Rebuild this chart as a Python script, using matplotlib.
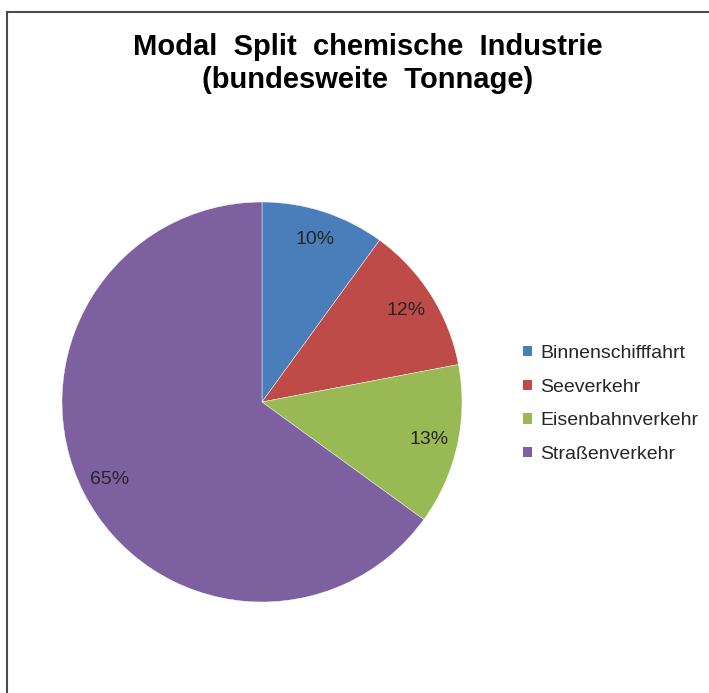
import matplotlib
matplotlib.use("Agg")
import matplotlib.pyplot as plt
from matplotlib.patches import Rectangle, Patch

plt.rcParams['font.family'] = ['Liberation Sans', 'DejaVu Sans']

categories = ["Binnenschifffahrt", "Seeverkehr", "Eisenbahnverkehr", "Straßenverkehr"]
values = [10, 12, 13, 65]
colors = ["#4A7EBB", "#BE4B48", "#98B954", "#7D60A0"]
title_lines = ["Modal Split chemische Industrie", "(bundesweite Tonnage)"]

W, H = 709, 693
fig = plt.figure(figsize=(W / 100, H / 100), dpi=100)
fig.patch.set_facecolor("white")

# chart frame (extends beyond right/bottom edge)
fig.patches.append(Rectangle((7 / W, -0.1), 1.2, (H - 12) / H + 0.1,
                             transform=fig.transFigure, fill=False,
                             edgecolor="#4a4a4a", linewidth=1.5))

cx, cy, r = 262, 402, 200
ax = fig.add_axes([(cx - r) / W, (H - cy - r) / H, 2 * r / W, 2 * r / H])
wedges, texts, autotexts = ax.pie(
    values, colors=colors, startangle=90, counterclock=False,
    autopct=lambda p: f"{p:.0f}%", pctdistance=0.855,
    wedgeprops=dict(edgecolor="white", linewidth=0.3),
    textprops=dict(fontsize=14, color="#262626"))
ax.set_xlim(-1, 1)
ax.set_ylim(-1, 1)
ax.axis("off")

fig.text(368 / W, 1 - 47 / H, title_lines[0].replace(" ", "  "), ha="center", va="center",
         fontsize=21, fontweight="bold", color="black")
fig.text(368 / W, 1 - 80 / H, title_lines[1].replace(" ", "  "), ha="center", va="center",
         fontsize=21, fontweight="bold", color="black")

handles = [Patch(facecolor=c, edgecolor="none") for c in colors]
fig.legend(handles, categories, loc="upper left",
           bbox_to_anchor=(523 / W, 1 - 345 / H), frameon=False,
           fontsize=14, handlelength=0.45, handleheight=0.45,
           handletextpad=0.45, labelspacing=0.86, borderpad=0,
           borderaxespad=0, labelcolor="#262626")

fig.savefig("out.png", dpi=100)
